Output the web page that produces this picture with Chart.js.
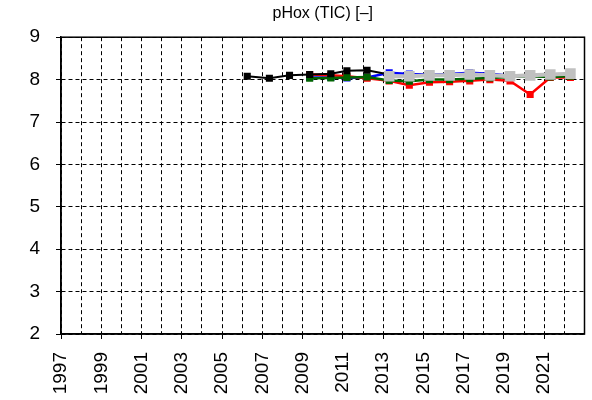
<!DOCTYPE html>
<html>
<head>
<meta charset="utf-8">
<script src="https://cdn.jsdelivr.net/npm/chart.js@4/dist/chart.umd.min.js"></script>
<style>
  body { margin: 0; background: #fff; }
  #wrap { width: 592px; height: 400px; }
</style>
</head>
<body>
<div id="wrap"><canvas id="myChart" width="592" height="400"></canvas></div>
<script>
// decimal year of each sample
const xBlack = [2006.25, 2007.35, 2008.35, 2009.35, 2010.4, 2011.2, 2012.2, 2013.3]
const yBlack = [8.08, 8.03, 8.10, 8.12, 8.14, 8.21, 8.22, 8.12]

const xYears = [2009.35, 2010.4, 2011.2, 2012.2, 2013.3, 2014.3, 2015.3, 2016.3, 2017.3, 2018.3, 2019.3, 2020.3, 2021.3, 2022.3]
const yBlue  = [8.05, 8.05, 8.04, 8.05, 8.16, 8.13, 8.12, 8.13, 8.16, 8.14, 8.09, 8.10, 8.10, 8.12]
const yRed   = [8.12, 8.10, 8.08, 8.03, 7.97, 7.87, 7.94, 7.95, 7.97, 8.00, 7.97, 7.65, 8.05, 8.05]
const yGreen = [8.03, 8.04, 8.05, 8.06, 7.98, 7.96, 8.00, 8.00, 8.02, 8.04, 8.06, 8.08, 8.06, 8.08]

const xGray = [2013.3, 2014.3, 2015.3, 2016.3, 2017.3, 2018.3, 2019.3, 2020.3, 2021.3, 2022.3]
const yGray = [8.08, 8.08, 8.10, 8.10, 8.12, 8.10, 8.08, 8.10, 8.12, 8.14]

const title = 'pHox (TIC) [–]'
const labelYears = [1997, 1999, 2001, 2003, 2005, 2007, 2009, 2011, 2013, 2015, 2017, 2019, 2021]

function pts(xs, ys){
  return xs.map((x, i) => ({x: x, y: ys[i]}))
}

function series(label, xs, ys, color, lw, r){
  return {
    label: label,
    data: pts(xs, ys),
    borderColor: color,
    backgroundColor: color,
    borderWidth: lw,
    pointStyle: 'rect',
    pointRadius: r,
    pointBorderWidth: 0,
    fill: false,
    tension: 0
  }
}

// draws the box round the plot area
const frame = {
  id: 'frame',
  afterDraw(chart){
    const a = chart.chartArea
    const c = chart.ctx
    c.save()
    c.strokeStyle = '#000'
    c.lineWidth = 1.5
    c.strokeRect(a.left, a.top, a.right - a.left, a.bottom - a.top)
    c.restore()
  }
}

const ctx = document.getElementById('myChart').getContext('2d');
const myChart = new Chart(ctx, {
  type: 'line',
  data: {
    datasets: [
      series('gray', xGray, yGray, '#c0c0c0', 4, 7.5),
      series('black', xBlack, yBlack, '#000000', 2, 5),
      series('green', xYears, yGreen, '#006400', 2.5, 5),
      series('red', xYears, yRed, '#ff0000', 2.5, 5),
      series('blue', xYears, yBlue, '#0000ff', 2.5, 5)
    ]
  },
  options: {
    responsive: false,
    animation: false,
    layout: { padding: { left: 0, right: 3, top: 0, bottom: 0 } },
    plugins: {
      legend: { display: false },
      tooltip: { enabled: false },
      title: {
        display: true,
        fullSize: false,
        text: title,
        color: '#000',
        font: { family: 'Liberation Sans', size: 16, weight: 'normal' },
        padding: { top: 4, bottom: 14 }
      }
    },
    scales: {
      x: {
        type: 'linear',
        min: 1997,
        max: 2023,
        afterFit(s){ s.height = 66; s.paddingLeft = 0; s.paddingRight = 0 },
        ticks: {
          stepSize: 1,
          autoSkip: false,
          minRotation: 90,
          maxRotation: 90,
          padding: 13,
          color: '#000',
          font: { family: 'Liberation Sans', size: 19 },
          callback: v => labelYears.includes(v) ? String(v) : ''
        },
        grid: {
          color: '#000',
          lineWidth: 1,
          tickLength: 5,
          tickColor: c => labelYears.includes(c.tick && c.tick.value) ? '#000' : 'rgba(0,0,0,0)'
        },
        border: { display: true, color: '#000', width: 1.5, dash: [4, 3] }
      },
      y: {
        min: 2,
        max: 9,
        afterFit(s){ s.width = 61 },
        ticks: {
          stepSize: 1,
          padding: 16,
          color: '#000',
          font: { family: 'Liberation Sans', size: 19 }
        },
        grid: {
          color: '#000',
          lineWidth: 1,
          tickLength: 5,
          tickColor: '#000'
        },
        border: { display: true, color: '#000', width: 1.5, dash: [4, 3] }
      }
    }
  },
  plugins: [frame]
});
</script>
</body>
</html>
